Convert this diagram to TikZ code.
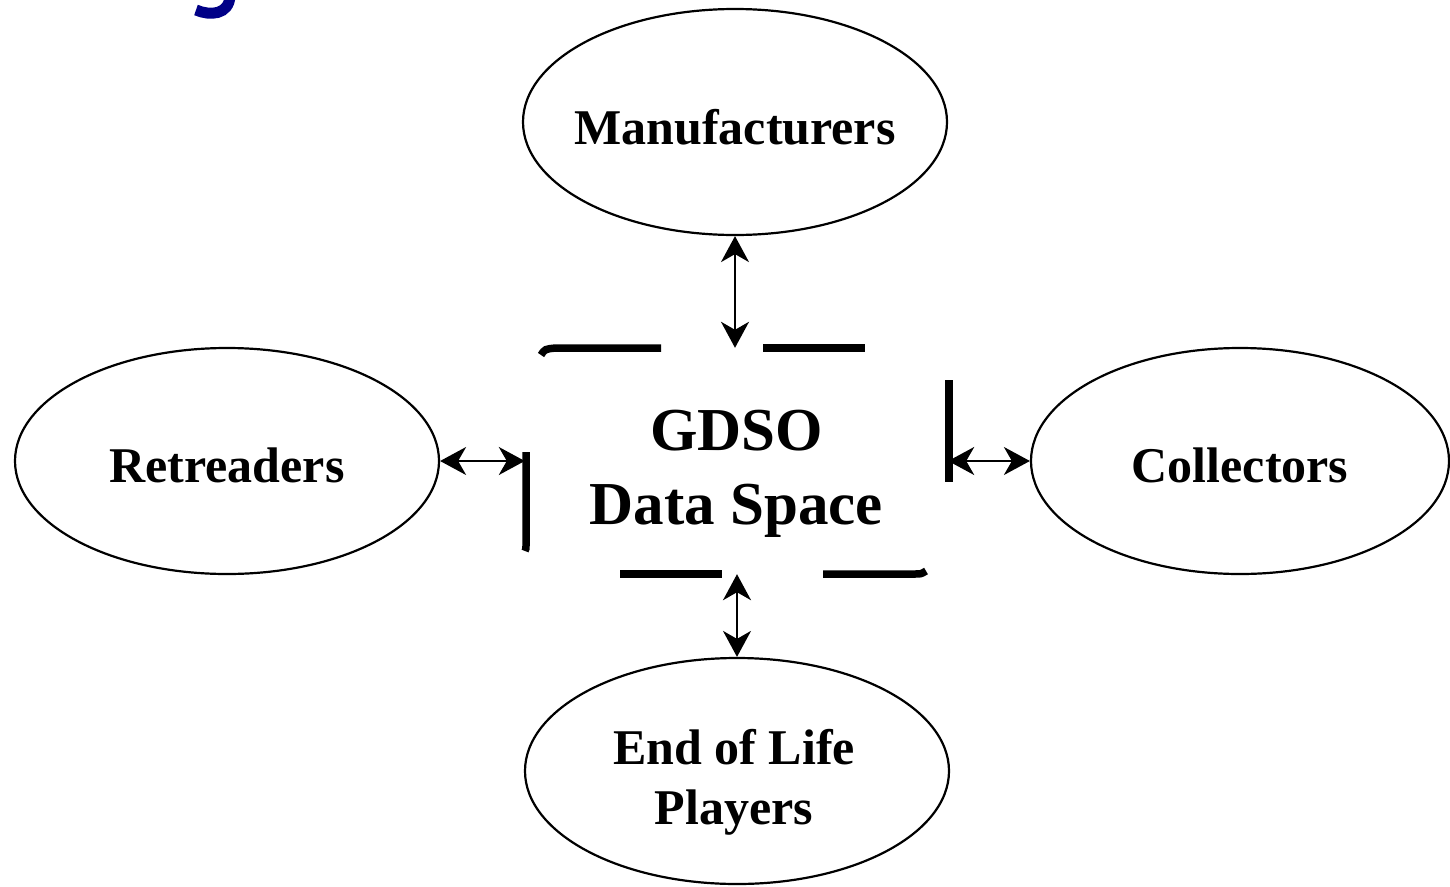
\documentclass[tikz,border=0pt]{standalone}
\usepackage{fontspec}
\setmainfont{Liberation Serif}
\usetikzlibrary{shapes.geometric,arrows.meta}
\definecolor{navyfrag}{RGB}{0,0,135}
\tikzset{
  ell/.style={draw, ellipse, line width=2.2pt, inner sep=0pt, minimum width=424pt, minimum height=226pt},
  lbl/.style={font=\fontsize{50}{60}\selectfont\bfseries, align=center, inner sep=0pt},
  borderseg/.style={line width=7.5pt},
  link/.style={line width=2pt, {Stealth[length=26pt,width=28pt,inset=8pt]}-{Stealth[length=26pt,width=28pt,inset=8pt]}}
}
\begin{document}
\begin{tikzpicture}[x=1pt,y=-1pt]
\useasboundingbox (0,0) rectangle (1450,886);
% clipped fragment of a title letter at the top
\draw[navyfrag, line width=11pt] (196,10) .. controls (210,16) and (229,15) .. (230,-4);
% ellipses
\node[ell, label={[lbl, yshift=-5pt]center:Manufacturers}] (man) at (735,122) {};
\node[ell, label={[lbl, yshift=-4pt]center:Retreaders}] (ret) at (227,461) {};
\node[ell, minimum width=418pt, label={[lbl, yshift=-4pt]center:Collectors}] (col) at (1240,461) {};
\node[ell, label={[lbl, yshift=-11pt, xshift=-3pt]center:{End of Life\\Players}}] (eol) at (737,771) {};
% central data space
\node[minimum width=423pt, minimum height=226pt, inner sep=0pt,
      label={[inner sep=0pt, align=center, yshift=-13pt, font=\fontsize{61}{74}\selectfont\bfseries]center:{GDSO\\Data Space}}] (gdso) at (736.5,461) {};
% dashed border of the data space
\draw[borderseg] (541,355) .. controls (545,349) .. (556,348) -- (661,348);
\draw[borderseg] (763,348) -- (865,348);
\draw[borderseg] (949,380) -- (949,482);
\draw[borderseg] (620,574) -- (722,574);
\draw[borderseg] (823,574) -- (915,574) .. controls (921,574) .. (926,571);
\draw[borderseg] (526,452) -- (526,545) .. controls (526,549) .. (525,551);
% connectors
\draw[link] (man.south) -- (man.south |- gdso.north);
\draw[link] (eol.north) -- (eol.north |- gdso.south);
\draw[link] (ret.east) -- (gdso.west);
\draw[link] (gdso.east) -- (col.west);
\end{tikzpicture}
\end{document}
